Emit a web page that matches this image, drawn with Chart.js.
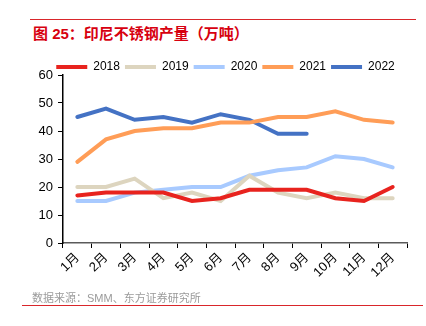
<!DOCTYPE html>
<html>
<head>
<meta charset="utf-8">
<script src="https://cdn.jsdelivr.net/npm/chart.js@4"></script>
<style>
  body { margin: 0; width: 426px; height: 326px; background: #fff; position: relative; overflow: hidden;
         font-family: "Liberation Sans", "Noto Sans CJK SC", sans-serif; }
  .rule { position: absolute; height: 1px; background: #d9262b; }
  #title { position: absolute; left: 33px; top: 22px; font-size: 15px; font-weight: bold; color: #d7000f; white-space: nowrap; }
  #source { position: absolute; left: 32px; top: 289px; font-size: 11px; color: #9a9a9a; white-space: nowrap; }
  #wrap { position: absolute; left: 20px; top: 48px; width: 400px; height: 247px; }
</style>
</head>
<body>
<div class="rule" style="left:30px; top:19px; width:386px;"></div>
<div id="title">图 25：印尼不锈钢产量（万吨）</div>
<div id="wrap"><canvas id="chart"></canvas></div>
<div id="source">数据来源：SMM、东方证券研究所</div>
<div class="rule" style="left:22px; top:305px; width:401px;"></div>

<script>
// monthly output, 10k tonnes
const months = ['1月', '2月', '3月', '4月', '5月', '6月', '7月', '8月', '9月', '10月', '11月', '12月'];
const y2018 = [17, 18, 18, 18, 15, 16, 19, 19, 19, 16, 15, 20];
const y2019 = [20, 20, 23, 16, 18, 15, 24, 18, 16, 18, 16, 16];
const y2020 = [15, 15, 18, 19, 20, 20, 24, 26, 27, 31, 30, 27];
const y2021 = [29, 37, 40, 41, 41, 43, 43, 45, 45, 47, 44, 43];
const y2022 = [45, 48, 44, 45, 43, 46, 44, 39, 39];
const yTicks = [0, 10, 20, 30, 40, 50, 60];

function series(label, data, color) {
    return {
        label: label,
        data: data,
        borderColor: color,
        backgroundColor: color,
        borderWidth: 4,
        pointRadius: 0,
        tension: 0,
        borderCapStyle: 'round'
    };
}

// nudge the legend row down/right so it sits just above the plot
const legendNudge = {
    id: 'legendNudge',
    afterLayout(chart) {
        const lg = chart.legend;
        lg.left += 12; lg.right += 12;
        lg.top += 8; lg.bottom += 8;
    }
};

const ctx = document.getElementById('chart').getContext('2d');
const chart = new Chart(ctx, {
    type: 'line',
    data: {
        labels: months,
        datasets: [
            series('2018', y2018, '#e8231e'),
            series('2019', y2019, '#ddd5bf'),
            series('2020', y2020, '#a8caff'),
            series('2021', y2021, '#ff9d57'),
            series('2022', y2022, '#4472c4')
        ]
    },
    plugins: [legendNudge],
    options: {
        responsive: true,
        maintainAspectRatio: false,
        animation: false,
        layout: { padding: { right: 13 } },
        plugins: {
            tooltip: { enabled: false },
            legend: {
                position: 'top',
                labels: {
                    boxWidth: 31,
                    boxHeight: 4,
                    padding: 5,
                    color: '#000',
                    font: { family: '"Liberation Sans", sans-serif', size: 12 },
                    generateLabels: function(chart) {
                        return Chart.defaults.plugins.legend.labels.generateLabels(chart)
                            .map(item => Object.assign(item, { lineWidth: 0 }));
                    }
                }
            }
        },
        scales: {
            x: {
                offset: true,
                grid: { display: true, drawOnChartArea: false, offset: true, tickLength: 5, color: '#000' },
                border: { color: '#5a5a5a', width: 1.5 },
                ticks: {
                    color: '#000',
                    maxRotation: 45,
                    minRotation: 45,
                    padding: 2,
                    font: { family: '"Liberation Sans", "Noto Sans CJK SC", sans-serif', size: 13 }
                },
                afterFit: function(scale) { scale.height = 52; }
            },
            y: {
                min: 0,
                max: 60,
                afterBuildTicks: function(scale) { scale.ticks = yTicks.map(v => ({ value: v })); },
                grid: { display: true, drawOnChartArea: false, tickLength: 5, color: '#000' },
                border: { color: '#000', width: 1.5 },
                ticks: {
                    color: '#000',
                    padding: 5,
                    font: { family: '"Liberation Sans", sans-serif', size: 13 }
                },
                afterFit: function(scale) { scale.width = 43; }
            }
        }
    }
});
</script>
</body>
</html>
